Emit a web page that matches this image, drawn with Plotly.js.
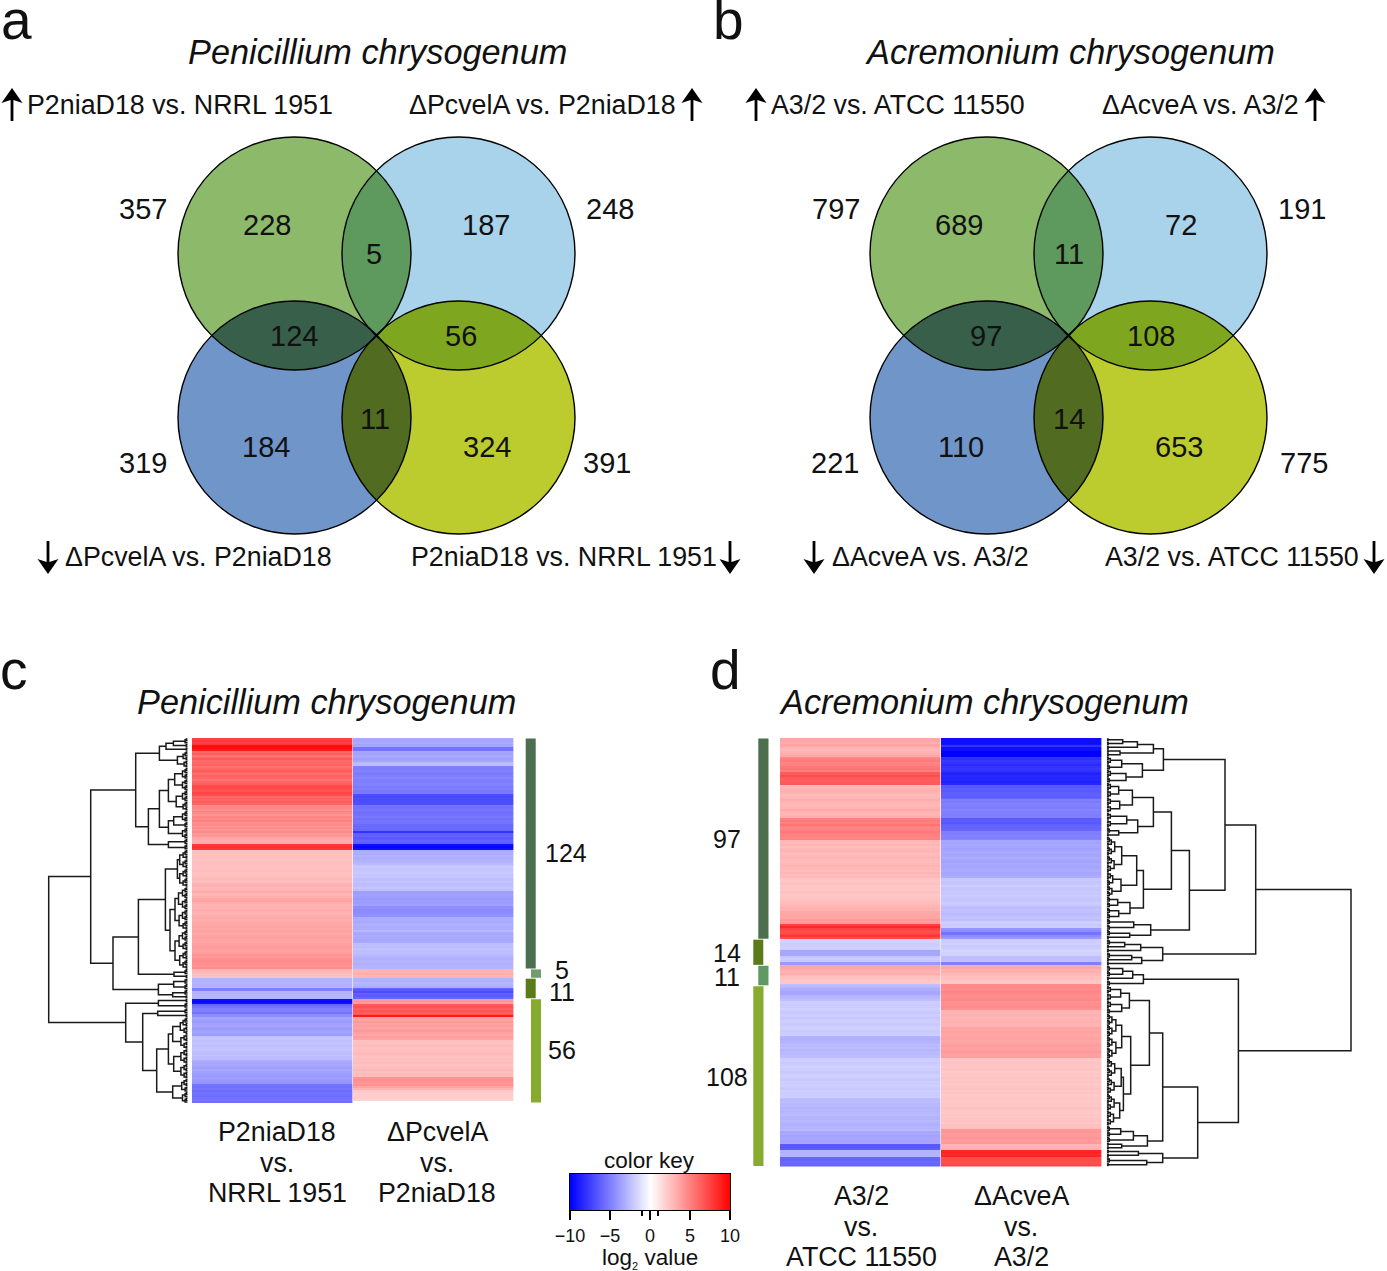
<!DOCTYPE html>
<html>
<head>
<meta charset="utf-8">
<script src="https://cdn.plot.ly/plotly-3.0.1.min.js"></script>
<style>html,body{margin:0;padding:0;background:#fff}#chart{width:1387px;height:1271px}</style>
</head>
<body>
<div id="chart"></div>
<script>
// ---------- DATA ----------
const speciesP = 'Penicillium chrysogenum';
const speciesA = 'Acremonium chrysogenum';
const vennCountsP = ['357','228','5','187','248','124','56','319','184','11','324','391'];
const vennCountsA = ['797','689','11','72','191','97','108','221','110','14','653','775'];
const vennLabelsP = ['P2niaD18 vs. NRRL 1951','ΔPcvelA vs. P2niaD18','ΔPcvelA vs. P2niaD18','P2niaD18 vs. NRRL 1951'];
const vennLabelsA = ['A3/2 vs. ATCC 11550','ΔAcveA vs. A3/2','ΔAcveA vs. A3/2','A3/2 vs. ATCC 11550'];
const heatLabelsC = [['P2niaD18','vs.','NRRL 1951'],['ΔPcvelA','vs.','P2niaD18']];
const heatLabelsD = [['A3/2','vs.','ATCC 11550'],['ΔAcveA','vs.','A3/2']];
const groupSizesC = [124,5,11,56];
const groupNamesC = ['124','5','11','56'];
const groupSizesD = [108,14,11,97];
const groupNamesD = ['97','14','11','108'];

// log2 values, one per heat-map row
const heatC1 = [
 7.5,7.8,7.5,8,
 9.5,9.5,9,
 6,6.3,5.5,6,6.5,5.8,6,6.2,5.6,6,6.4,6,5.7,6.2,6,5.5,6,6.3,
 7,7.2,7,6.8,7.3,7,
 6,6.2,6,6.4,6,
 4.6,4.8,4.4,5,4.6,4.2,4.8,4.6,5,4.4,4.6,4,4.5,4.2,4.6,4,4.2,
 3.5,3.3,3.2,3.4,
 7.8,8.2,7.8,
 2.4,2.5,2.4,2.5,2.6,2.4,2.5,2.5,2.6,2.4,2.5,2.6,2.5,2.4,2.6,2.8,2.6,2.5,
 3,3.1,2.8,3,3.3,3,2.9,3.2,3.5,3.6,3.2,3,3.2,3,3.3,3.1,3,3.2,3.4,3.2,3.3,3.4,
 3.4,3.6,3.5,3.7,3.5,3.4,3.6,3.8,3.6,3.5,3.7,3.9,4,3.8,3.7,3.9,4.2,4,4.4,4.5,4.6,4.4,4.2,4.5,
 3,2.8,2.6,2.6,2.4,
 -3,-3,-2.9,-3.1,-3,-5,-5,-3,-3,-2.9,-3,
 -9.5,-9.8,-9.5,-6,-5.5,-5,-5,-5.5,-4.5,-4.5,
 -3.5,-3.8,-4,-3.7,-3.5,-3.8,-4,-3.6,-3.7,-3.9,
 -2.4,-2.3,-2.5,-2.3,-2.4,-2.6,-2.4,-2.3,-2.5,-2.6,-2.4,-2.7,-2.6,
 -3.2,-3.5,-3.4,-3.6,-3.8,-3.5,-3.7,-3.9,-4,-3.8,-4,-4.1,-4.2,
 -5.5,-5.6,-5.4,-5.8,-5.5,-5.6,-5.8,-5.5,-5.4,-5.6
];
const heatC2 = [
 -3.4,-3.5,-3.3,-3.6,-3.5,
 -5.5,-5.5,
 -3.5,-3.6,-3.4,-3.5,-3.7,-3.5,
 -2.7,-2.6,
 -5,-5.1,-4.9,-5,-5.2,-5,-4.8,-5,-5.1,-4.9,-5,-5.2,-5,-5.3,-5.2,
 -7,-7.2,-6.9,-7.1,-7,-6.9,
 -5.5,-5.6,-5.4,-5.5,-5.7,-5.5,-5.3,-5.6,-5.4,-5.5,-5.8,-6,-5.8,-6,
 -8,
 -6.3,-6.2,-6.5,-6.3,-6.1,-6.4,
 -9.5,-9.8,-9.5,
 -3.2,-3.1,-3.3,-3,-3.2,-3.1,-3,-2.8,
 -2.2,-2.1,-2.3,-2.2,-2.1,-2.3,-2.2,
 -2.6,-2.5,-2.4,-2.6,-2.5,-2.3,-2.5,
 -3.8,-3.9,-3.7,-3.8,-4,-3.8,-3.9,-3.7,
 -4.5,-4.4,-4.6,-4.5,-4.4,-4.3,
 -3.3,-3.2,-3.4,-3.3,-3.1,-3.3,-3.2,-2.8,
 -3.4,-3.5,-3.3,-3.4,-3.5,-3.4,
 -2.6,-2.5,-2.7,-2.4,-2.6,-2.5,-2.7,
 -3,-3.1,-2.9,-3,-3.1,-3,-2.9,
 3,2.9,3.2,2.8,3,
 -3,-3.1,-2.8,-3,-3.2,-6,-6.5,-7,-6.2,-6.5,-6,
 4,4.2,3.8,6.5,6.8,6.3,6.6,6.4,6.8,9,
 3.8,3.6,4,3.7,3.9,3.6,3.8,4,3.7,3.5,3.8,3.6,
 2.5,2.4,2.6,2.7,2.4,2.5,2.6,2.8,2.5,2.4,2.6,2.5,2.7,2.4,2.5,
 2.6,2.8,2.5,2.7,2.6,4.2,4.4,4.2,4,4.3,3.6,3,
 2.2,2,2,1.9,2,1.8
];
const heatD1 = [
 3.5,3.5,3.2,3.6,3.5,
 3,2.8,3,3.2,3.4,
 4.5,5,5.2,4.8,5,5.3,5.5,5,
 6.5,6.5,7,6.5,6.3,6.5,6.5,
 2.8,2.8,3,3.2,3,2.7,2.8,3,3.2,3,2.8,2.8,3,3.3,3,2.8,3,3.2,
 5,5.2,5,5.5,5,4.8,5,5.3,5,5,4.8,5,
 2.8,2.7,2.9,2.6,2.8,3,2.7,2.6,2.8,2.9,2.7,2.6,2.8,3,2.7,2.8,2.6,2.9,2.7,2.8,
 2.3,2.2,2.3,2.4,2.2,2.3,2.2,2.4,2.3,2.2,2.3,2.4,
 2.5,2.6,2.8,3,3.2,3,3.4,3.5,3.4,3.6,4,3.8,4,
 7.5,8.5,7.5,7,7,7.5,8,7,
 -1.8,-1.8,-2,-2,-1.8,-2,-3.5,-3.5,-3.5,-2.2,-2,-2.2,-4,-4,
 3.5,3.5,3.2,3,3.2,2.8,2.5,2.4,2.2,2.2,
 -2.5,-2.8,-3.2,-3.2,-3.5,-3.5,-3,-2.8,-2.5,
 -2,-1.9,-2.1,-2,-1.8,-2,-2.1,-1.9,-2,-2.2,-2,-1.9,-2.1,-2,-1.8,-2,-2.1,-2,-1.9,
 -3,-3.1,-3,-2.9,
 -2.5,-2.8,-2.6,-2.9,-2.7,-2.8,-2.6,-2.5,
 -2,-1.9,-2.1,-2,-1.8,-2,-1.9,-2.1,-2,-1.8,-2,-2.1,-1.9,-2,-1.8,-2,-2.1,-1.9,-2,-2,-1.9,
 -2.6,-2.7,-2.6,-2.8,-2.7,-2.9,-2.8,-3,-2.8,-2.7,-2.9,-3,-2.8,-3,-3.1,-2.9,-3,-2.8,
 -3.5,-3.4,-3.6,-3.5,-3.4,-3.6,-3.5,
 -6.5,-6.6,-6.4,
 -3,-3.1,-2.9,-3,
 -6,-6.1,-5.9,-6,-6.1
];
const heatD2 = [
 -9.5,-9.4,-9.5,-9.3,-8,-9.4,-9.5,
 -10,-10,-10,
 -8,-8.2,-7.8,-8,-8.3,-8,-7.8,-8.1,
 -8.5,-8.7,-8.4,-8.6,-8.5,-8.8,-8.5,
 -6.5,-6.6,-6.4,-6.5,-6.3,-6.2,-6.4,-6,
 -5,-5.2,-4.9,-5,-5.1,-4.8,-5,-4.9,-5.1,-5,
 -6.5,-6.4,-6.6,-6.2,-6,-6.1,-6,
 -5,-5.1,-4.9,-5,-4.8,
 -3.5,-3.6,-3.4,-3.5,-3.7,-3.5,-3.4,-3.6,-3.5,-3.3,-3.5,-3.6,-3.4,-3.5,-3.6,-3.4,-3.3,-3.5,-3.4,-3.2,
 -2.2,-2.1,-2.3,-2.2,-2,-2.2,-2.3,-2.1,-2.2,-2,-2.1,-2.3,-2.2,-2,-2.1,
 -2.5,-2.6,-2.4,-2.5,-2.7,-2.5,-2.4,-2.6,
 -2,-1.9,-2.1,-2,
 -4.2,-4.5,-5.5,-5.5,-4.5,-4,
 -2,-2,-1.9,-2.1,-2,-1.8,-1.7,-1.8,-1.8,-2.5,-2.6,-2.5,-5,-5,
 3.3,3.5,3,3.2,2.8,2.8,2.5,2.5,2.3,2.3,
 4.6,4.7,4.5,4.6,4.8,4.6,4.4,4.5,4.7,4.3,4.5,4.4,4.6,4.3,
 3,2.9,3.1,3,2.8,3,3.1,2.9,3,
 3.6,3.5,3.7,3.6,3.4,3.6,3.7,3.5,3.6,
 3.8,3.9,3.7,3.8,4,3.8,3.7,3.9,
 2.3,2.2,2.4,2.3,2.2,2.4,2.3,2.1,2.3,2.2,2.4,2.2,2.3,2.1,2.2,2.3,2.4,2.2,2.3,2.1,2.2,2.3,2.2,2.1,2.3,2.2,2.4,2.3,2.2,2.1,2.3,2.2,2.3,2.4,2.2,2.5,2.4,2.5,
 4,4.1,3.9,4,4.2,4,3.9,4,
 3,2.9,3.1,
 8.5,8.7,8.4,8.6,
 7,7.1,6.9,7,7.2
];
const keyZ = [[-10,-9,-8,-7,-6,-5,-4,-3,-2,-1,0,1,2,3,4,5,6,7,8,9,10]];
const keyX = [-10,-9,-8,-7,-6,-5,-4,-3,-2,-1,0,1,2,3,4,5,6,7,8,9,10];

// dendrogram clusters: [merge height, upper child, lower child]; 0 = a leaf (one row)
const f2=[1.4,0,0], f3=[2.6,f2,0], f4=[3.6,f2,f2], f5=[4.6,f3,f2], f6=[5.2,f3,f3], f7=[6,f4,f3];
const f8=[6.8,f4,f4], f9=[7.4,f5,f4], f10=[8,f5,f5], f11=[8.6,f6,f5], f12=[9.2,f6,f6];

const treeC = [139,
 [97,
  [52,
   [28.3,[21.7,[14.3,f3,f2],f2],[10.3,f5,f4]],
   [39.3,
    [28.3,[19.3,[13,f6,f6],[11.5,f6,f5]],[19.3,[14,f6,f3],f6]],
    [19.3,f3,f3]]],
  [74.7,
   [49.3,
    [22.3,[10.3,f10,f10],[17.7,[12.7,f12,f11],[12.7,f11,f10]]],
    [13.7,f3,f2]],
   [29.3,[14,f3,f3],[15,f3,f2]]]],
 [62,
  [29.3,f2,f3],
  [45,
   [30,f3,f2],
   [31,[19.3,[15,f9,f8],[14,f8,f8]],[15,f7,f6]]]]];

const treeD = [244.3,
 [149,
  [118.3,
   [56.7,
    [46.7,[30.7,[16,f2,f2],f2],[13.3,f2,f2]],
    [35.7,[15,f4,f3],[19.3,f4,f3]]],
   [82.7,
    [64.7,
     [46.7,[25.7,[12,f4,f4],[13,f4,f4]],[31,[20,f4,f4],[12,f3,f2]]],
     [36.7,[30,[15,f10,f9],[14.3,f7,f6]],[23.3,[11,f3,f3],[12,f3,f3]]]],
    [44,[27,f3,f3],[23,f3,f2]]]],
  [56,[34,[18,f3,f2],f2],[35,[25,f3,f2],f2]]],
 [131.7,
  [36.7,[26,[16,f3,f3],f2],f3],
  [91,
   [56,
    [42.7,[22.7,[14,f4,f4],[15,f4,f3]],[24,[15,f12,f12],[16.7,[14.5,f10,f9],[13,f9,f8]]]],
    [40.7,[26.7,[14,f3,f3],f3],[15,f2,f2]]],
   [56,[31.7,f2,f2],[40,f3,f2]]]]];

// ---------- STYLE / LAYOUT ----------
const W=1387,H=1271,FF='"Liberation Sans",Arial,sans-serif';
const dx=(a,b)=>[a/W,b/W], dy=(t,b)=>[1-b/H,1-t/H];
const INK='#111';
const C={green:'#8DB96A',sky:'#A9D2EB',blue:'#6F95C9',yellow:'#BCCB2E',
 gs:'#5E9A5E',gb:'#375F4A',by:'#516B20',sy:'#7FA61F'};
const R=116.5;
const vennOrigins=[{x:294.5,name:'P'},{x:986.5,name:'A'}];
const XS=164,YT=253.5,YB=417.5;

const shapes=[];
function lens(a,b){
 const mx=(a[0]+b[0])/2,my=(a[1]+b[1])/2,dxx=b[0]-a[0],dyy=b[1]-a[1],d=Math.hypot(dxx,dyy);
 const h=Math.sqrt(R*R-d*d/4),ux=-dyy/d,uy=dxx/d;
 const p1=[mx+ux*h,my+uy*h],p2=[mx-ux*h,my-uy*h];
 const arc=(c,s,e)=>{let t0=Math.atan2(s[1]-c[1],s[0]-c[0]),t1=Math.atan2(e[1]-c[1],e[0]-c[0]);
  let dt=t1-t0;while(dt>Math.PI)dt-=2*Math.PI;while(dt<-Math.PI)dt+=2*Math.PI;
  const pts=[];for(let i=0;i<=48;i++){const t=t0+dt*i/48;pts.push([c[0]+R*Math.cos(t),c[1]+R*Math.sin(t)]);}return pts;};
 const pts=arc(a,p1,p2).concat(arc(b,p2,p1));
 return 'M'+pts.map(p=>p[0].toFixed(2)+','+p[1].toFixed(2)).join('L')+'Z';
}
vennOrigins.forEach(o=>{
 const g=[o.x,YT],s=[o.x+XS,YT],b=[o.x,YB],y=[o.x+XS,YB];
 [[g,C.green],[s,C.sky],[b,C.blue],[y,C.yellow]].forEach(([c,col])=>shapes.push({type:'circle',xref:'x',yref:'y',x0:c[0]-R,x1:c[0]+R,y0:c[1]-R,y1:c[1]+R,fillcolor:col,line:{width:0},layer:'above'}));
 [[g,s,C.gs],[g,b,C.gb],[b,y,C.by],[s,y,C.sy]].forEach(([p,q,col])=>shapes.push({type:'path',xref:'x',yref:'y',path:lens(p,q),fillcolor:col,line:{width:0},layer:'above'}));
 [g,s,b,y].forEach(c=>shapes.push({type:'circle',xref:'x',yref:'y',x0:c[0]-R,x1:c[0]+R,y0:c[1]-R,y1:c[1]+R,fillcolor:'rgba(0,0,0,0)',line:{width:1.4,color:'#000'},layer:'above'}));
});

// group side bars, in rows of each heat map
const barsC={sizes:groupSizesC,y:'y2',pos:[[525.7,535.7],[531,541],[525.7,535.7],[531,541]],cols:['#4C6F50','#6E9E6E','#5A7A1C','#86AB2E']};
const barsD={sizes:groupSizesD,y:'y3',pos:[[758.3,768.5],[753.3,763.3],[758.3,768.5],[753.3,763.5]],cols:['#4C6F50','#5A7A1C','#5F9A65','#86AB2E']};
[barsC,barsD].forEach(b=>{let r=0;b.sizes.forEach((n,i)=>{shapes.push({type:'rect',xref:'x',yref:b.y,x0:b.pos[i][0],x1:b.pos[i][1],y0:r+0.25,y1:r+n-0.25,fillcolor:b.cols[i],line:{width:0},layer:'above'});r+=n;});});

// up / down arrows beside the comparison labels
function arrow(x,tip,tail){
 const s=Math.sign(tail-tip),hw=10.5,hl=15,nt=3,sw=1.4;
 const pts=[[x,tip],[x+hw,tip+s*hl],[x+sw,tip+s*(hl-nt)],[x+sw,tail],[x-sw,tail],[x-sw,tip+s*(hl-nt)],[x-hw,tip+s*hl]];
 shapes.push({type:'path',xref:'x',yref:'y',path:'M'+pts.map(p=>p.join(',')).join('L')+'Z',fillcolor:'#000',line:{width:0},layer:'above'});
}
[[12,88,121],[692,88,121],[756,88,121],[1315,88,121],[48,574,541],[730,574,541],[814,574,541],[1374,574,541]].forEach(a=>arrow(a[0],a[1],a[2]));

function treeLines(root){
 const xs=[],ys=[];let row=0;
 (function walk(n){
  if(n===0){const y=row+0.5;row++;return {h:0,y};}
  const a=walk(n[1]),b=walk(n[2]);
  xs.push(a.h,n[0],n[0],b.h,null);ys.push(a.y,a.y,b.y,b.y,null);
  return {h:n[0],y:(a.y+b.y)/2};
 })(root);
 return {xs,ys};
}
const tc=treeLines(treeC),td=treeLines(treeD);
const lineStyle={color:'#1a1a1a',width:1.5};
const rowsOf=a=>a.map((_,i)=>i+0.5);
const zip=(a,b)=>a.map((v,i)=>[v,b[i]]);
const cs=[[0,'#0000ff'],[0.5,'#ffffff'],[1,'#ff0000']];

const traces=[
 {type:'scatter',mode:'markers',x:[0],y:[0],marker:{opacity:0,size:1},hoverinfo:'skip',showlegend:false,xaxis:'x',yaxis:'y'},
 {type:'heatmap',z:zip(heatC1,heatC2),x:[0.5,1.5],y:rowsOf(heatC1),zmin:-10,zmax:10,colorscale:cs,showscale:false,xgap:0.6,xaxis:'x2',yaxis:'y2'},
 {type:'heatmap',z:zip(heatD1,heatD2),x:[0.5,1.5],y:rowsOf(heatD1),zmin:-10,zmax:10,colorscale:cs,showscale:false,xgap:0.6,xaxis:'x3',yaxis:'y3'},
 {type:'scatter',mode:'lines',x:tc.xs,y:tc.ys,line:lineStyle,hoverinfo:'skip',showlegend:false,xaxis:'x4',yaxis:'y2'},
 {type:'scatter',mode:'lines',x:td.xs,y:td.ys,line:lineStyle,hoverinfo:'skip',showlegend:false,xaxis:'x5',yaxis:'y3'},
 {type:'heatmap',z:keyZ,x:keyX,y:[0],zmin:-10,zmax:10,colorscale:cs,showscale:false,zsmooth:'best',xaxis:'x6',yaxis:'y6'}
];

// ---------- TEXT ----------
const ann=[];
function T(text,x,y,size,o={}){ann.push(Object.assign({text,x,y,xref:'x',yref:'y',showarrow:false,xanchor:'center',yanchor:'middle',font:{family:FF,size,color:INK}},o));}
function Tl(text,x,y,size){T(text,x,y,size,{xanchor:'left'});}
function Tr(text,x,y,size){T(text,x,y,size,{xanchor:'right'});}

T('a',16.5,20,55);T('b',728.5,20,55);T('c',14,669.5,55);T('d',725,670,55);
[[speciesP,377,52],[speciesA,1070,52],[speciesP,326,702],[speciesA,984,702]].forEach(t=>T('<i>'+t[0]+'</i>',t[1],t[2],34.3));

const vennPos=[[-151.5,208.5],[-27.5,224.5],[79.5,253.5],[191.5,224.5],[315.5,208.5],[-0.5,335.5],[166.5,335.5],[-151.5,462.5],[-28.5,446.5],[80.5,418.5],[192.5,446.5],[312.5,462.5]];
const vennPosA=[[-150.5,208.5],[-27.5,224.5],[82.5,253.5],[194.5,224.5],[315.5,208.5],[-0.5,335.5],[164.5,335.5],[-151.5,462.5],[-25.5,446.5],[82.5,418.5],[192.5,446.5],[317.5,462.5]];
vennCountsP.forEach((t,i)=>T(t,294.5+vennPos[i][0],vennPos[i][1],29));
vennCountsA.forEach((t,i)=>T(t,986.5+vennPosA[i][0],vennPosA[i][1],29));
Tl(vennLabelsP[0],25,104.5,26.8);Tr(vennLabelsP[1],678,104.5,26.8);Tl(vennLabelsP[2],63,556.5,26.8);Tr(vennLabelsP[3],719,556.5,26.8);
Tl(vennLabelsA[0],769,104.5,26.8);Tr(vennLabelsA[1],1301,104.5,26.8);Tl(vennLabelsA[2],830,556.5,26.8);Tr(vennLabelsA[3],1361,556.5,26.8);

heatLabelsC.forEach((col,i)=>col.forEach((t,j)=>T(t,[277,437][i],1132+30.5*j,26.8)));
heatLabelsD.forEach((col,i)=>col.forEach((t,j)=>T(t,[861,1021][i],1196+30.5*j,26.8)));
[[566,853],[562,970],[562,992],[562,1050]].forEach((p,i)=>T(groupNamesC[i],p[0],p[1],25));
[[727,839],[727,953],[727,977],[727,1077]].forEach((p,i)=>T(groupNamesD[i],p[0],p[1],25));
T('color key',649,1160,22.5);
T('log<sub><span style="font-size:11px">2</span></sub> value',650,1258,22.5);

const hidden={visible:false,fixedrange:true};
const layout={
 width:W,height:H,margin:{l:0,r:0,t:0,b:0,pad:0},paper_bgcolor:'#fff',plot_bgcolor:'rgba(0,0,0,0)',showlegend:false,
 font:{family:FF,color:INK},
 xaxis:Object.assign({},hidden,{domain:[0,1],range:[0,W]}),
 yaxis:Object.assign({},hidden,{domain:[0,1],range:[H,0]}),
 xaxis2:Object.assign({},hidden,{domain:dx(192,514),range:[0,2],anchor:'y2'}),
 yaxis2:Object.assign({},hidden,{domain:dy(738,1103),range:[196,0],anchor:'x2'}),
 xaxis3:Object.assign({},hidden,{domain:dx(780,1102),range:[0,2],anchor:'y3'}),
 yaxis3:Object.assign({},hidden,{domain:dy(738,1166.5),range:[230,0],anchor:'x3'}),
 xaxis4:Object.assign({},hidden,{domain:dx(40,187.7),range:[147.7,0],anchor:'y2'}),
 xaxis5:Object.assign({},hidden,{domain:dx(1106.7,1356.7),range:[0,250],anchor:'y3'}),
 xaxis6:{domain:dx(570,730),range:[-10,10],anchor:'y6',showline:true,mirror:true,linecolor:'#000',linewidth:1.2,zeroline:false,showgrid:false,
  ticks:'outside',ticklen:9,tickwidth:1.1,tickcolor:'#000',tickmode:'array',tickvals:[-10,-5,0,5,10],ticktext:['−10','−5','0','5','10'],tickfont:{family:FF,size:18,color:INK},
  minor:{ticks:'outside',ticklen:5,tickwidth:1.1,tickcolor:'#000',tickvals:[-1,1],tickmode:'array',showgrid:false},fixedrange:true},
 yaxis6:{domain:dy(1174,1210),range:[-0.5,0.5],anchor:'x6',showline:true,mirror:true,linecolor:'#000',linewidth:1.2,zeroline:false,showgrid:false,ticks:'',showticklabels:false,fixedrange:true},
 shapes:shapes,annotations:ann
};
Plotly.newPlot('chart',traces,layout,{staticPlot:true,displayModeBar:false});
</script>
</body>
</html>
